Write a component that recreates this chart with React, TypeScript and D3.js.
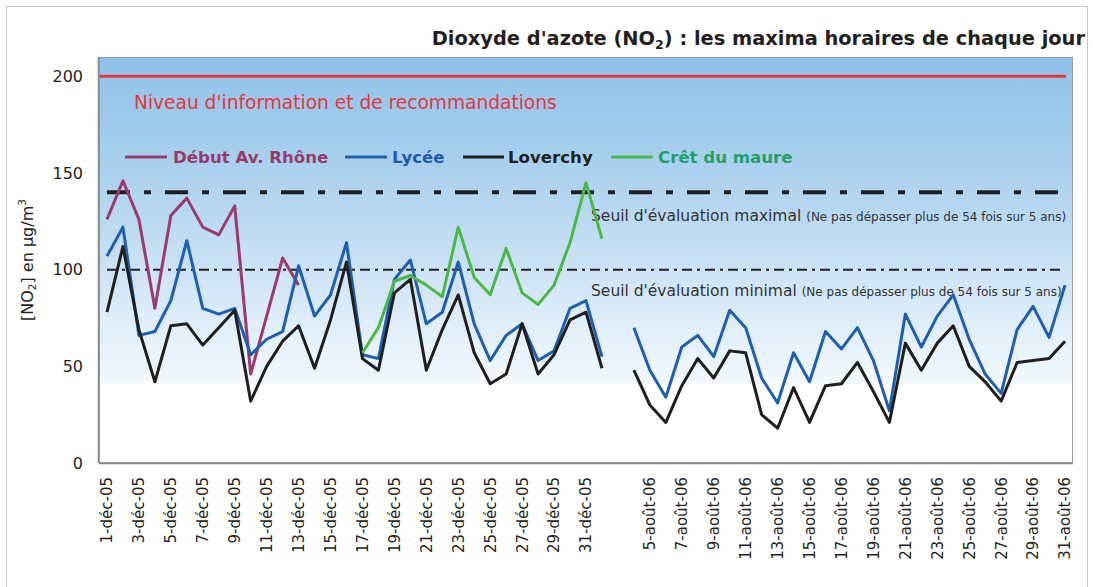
import React from "react";
import * as d3 from "d3";

// ---- data ----
const decLabels: string[] = d3.range(1, 32).map((d) => `${d}-déc-05`);
const gapLabels: string[] = ["1-janv-06", "", "4-août-06"];
const augLabels: string[] = d3.range(5, 32).map((d) => `${d}-août-06`);
const categories: string[] = [...decLabels, ...gapLabels, ...augLabels];

const N = null;
const debutRhone: (number | null)[] = [
  126, 146, 126, 80, 128, 137, 122, 118, 133, 46, 76, 106, 92,
  N, N, N, N, N, N, N, N, N, N, N, N, N, N, N, N, N, N, N,
  N, N, N, N, N, N, N, N, N, N, N, N, N, N, N, N, N, N, N, N, N, N, N, N, N, N, N, N, N,
];
const lycee: (number | null)[] = [
  107, 122, 66, 68, 84, 115, 80, 77, 80, 56, 64, 68, 102, 76, 87, 114,
  56, 54, 95, 105, 72, 78, 104, 72, 53, 66, 72, 53, 58, 80, 84, 55,
  N,
  70, 48, 34, 60, 66, 55, 79, 70, 44, 31, 57, 42, 68, 59, 70, 53, 27, 77, 60, 76, 87, 64, 46, 36, 69, 81, 65, 92,
];
const loverchy: (number | null)[] = [
  78, 112, 69, 42, 71, 72, 61, 70, 79, 32, 50, 63, 71, 49, 74, 104,
  54, 48, 88, 95, 48, 69, 87, 57, 41, 46, 72, 46, 56, 74, 78, 49,
  N,
  48, 30, 21, 40, 54, 44, 58, 57, 25, 18, 39, 21, 40, 41, 52, 37, 21, 62, 48, 62, 71, 50, 42, 32, 52, 53, 54, 63,
];
const cretMaure: (number | null)[] = [
  N, N, N, N, N, N, N, N, N, N, N, N, N, N, N, N,
  57, 70, 94, 97, 92, 86, 122, 96, 87, 111, 88, 82, 92, 114, 145, 116,
  N, N, N, N, N, N, N, N, N, N, N, N, N, N, N, N, N, N, N, N, N, N, N, N, N, N, N, N, N,
];
const yTicks: number[] = [0, 50, 100, 150, 200];
const infoLevel = 200;
const seuilMax = 140;
const seuilMin = 100;

const series = [
  { name: "Début Av. Rhône", values: debutRhone, color: "#9b3a6c", text: "#983a6b" },
  { name: "Lycée", values: lycee, color: "#1f5fad", text: "#1f5aa8" },
  { name: "Loverchy", values: loverchy, color: "#221f1f", text: "#221f1f" },
  { name: "Crêt du maure", values: cretMaure, color: "#4cb848", text: "#21a06a" },
];

const FONT = "'DejaVu Sans', Verdana, sans-serif";

export default function App() {
  const left = 99, right = 1073, top = 57, bottom = 463;
  const x = d3.scaleBand<number>().domain(d3.range(categories.length)).range([left, right]);
  const cx = (i: number) => (x(i) as number) + x.bandwidth() / 2;
  const y = d3.scaleLinear().domain([0, 210]).range([bottom, top]);
  const line = d3
    .line<number | null>()
    .defined((d) => d != null)
    .x((_, i) => cx(i))
    .y((d) => y(d as number));

  const legendItems = [
    { x1: 125, x2: 167, tx: 173 },
    { x1: 345, x2: 387, tx: 392 },
    { x1: 463, x2: 504, tx: 508 },
    { x1: 611, x2: 653, tx: 658 },
  ];
  const gradEnd = y(41);

  return (
    <svg width={1093} height={587} style={{ position: "absolute", left: 0, top: 0 }} fontFamily={FONT}>
      <defs>
        <linearGradient id="bg" gradientUnits="userSpaceOnUse" x1="0" y1={top} x2="0" y2={gradEnd}>
          <stop offset="0" stopColor="#8fc2e8" />
          <stop offset="0.22" stopColor="#9fcbec" />
          <stop offset="0.44" stopColor="#b3d5f0" />
          <stop offset="0.65" stopColor="#cce2f5" />
          <stop offset="0.84" stopColor="#e2eff9" />
          <stop offset="1" stopColor="#f2f8fd" />
        </linearGradient>
      </defs>
      <rect x={0} y={0} width={1093} height={587} fill="#fff" />
      <rect x={6.5} y={6.5} width={1081} height={600} fill="none" stroke="#c8c8c8" strokeWidth={1} />

      {/* title */}
      <text x={1085} y={45} textAnchor="end" fontWeight="bold" fontSize={19.4} fill="#231f20">
        Dioxyde d'azote (NO<tspan fontSize={12.6} dy={4}>2</tspan>
        <tspan dy={-4}>) : les maxima horaires de chaque jour</tspan>
      </text>

      {/* plot background */}
      <rect x={left} y={top} width={right - left} height={gradEnd - top} fill="url(#bg)" />
      <rect x={left} y={gradEnd} width={right - left} height={bottom - gradEnd} fill="#fff" />
      <rect x={left + 0.5} y={top + 0.5} width={right - left - 1} height={bottom - top - 1} fill="none" stroke="#9a9a9a" strokeWidth={1} />
      <line x1={left - 0.5} x2={left - 0.5} y1={top} y2={bottom} stroke="#8a8a8a" strokeWidth={1.5} />
      <line x1={left} x2={right} y1={bottom + 0.5} y2={bottom + 0.5} stroke="#8a8a8a" strokeWidth={1.5} />

      {/* y ticks */}
      {yTicks.map((t) => (
        <text key={t} x={83} y={y(t)} dy="0.36em" textAnchor="end" fontSize={16} fill="#231f20">
          {t}
        </text>
      ))}
      <text transform={`translate(33, 260) rotate(-90)`} textAnchor="middle" fontSize={16} fill="#231f20">
        [NO<tspan fontSize={10.5} dy={3}>2</tspan>
        <tspan dy={-3}>] en µg/m</tspan>
        <tspan fontSize={10.5} dy={-7}>3</tspan>
      </text>

      {/* x labels */}
      {categories.map((c, i) =>
        i % 2 === 0 && c !== "" ? (
          <text
            key={i}
            transform={`translate(${cx(i)}, 477) rotate(-90)`}
            textAnchor="end"
            dy="0.36em"
            fontSize={15}
            fill="#231f20"
          >
            {c}
          </text>
        ) : null
      )}

      {/* reference lines */}
      <line x1={cx(0) - 7} x2={cx(categories.length - 1) + 1} y1={y(infoLevel)} y2={y(infoLevel)} stroke="#e8343c" strokeWidth={3} />
      <text x={134} y={109} fontSize={18.6} fill="#e8343c">
        Niveau d'information et de recommandations
      </text>
      <line x1={cx(0)} x2={cx(categories.length - 1)} y1={y(seuilMax)} y2={y(seuilMax)} stroke="#231f20" strokeWidth={4} strokeDasharray="23,14,7,14" />
      <line x1={cx(0)} x2={cx(categories.length - 1)} y1={y(seuilMin)} y2={y(seuilMin)} stroke="#231f20" strokeWidth={2} strokeDasharray="10,5,3,5" />
      <text x={591} y={221} fontSize={15.5} fill="#333">
        Seuil d'évaluation maximal <tspan fontSize={12}>(Ne pas dépasser plus de 54 fois sur 5 ans)</tspan>
      </text>
      <text x={591} y={296} fontSize={15.5} fill="#333">
        Seuil d'évaluation minimal <tspan fontSize={12}>(Ne pas dépasser plus de 54 fois sur 5 ans)</tspan>
      </text>

      {/* series */}
      {series.map((s) => (
        <path key={s.name} d={line(s.values) || ""} fill="none" stroke={s.color} strokeWidth={3} strokeLinejoin="round" />
      ))}

      {/* legend */}
      {series.map((s, k) => (
        <g key={s.name}>
          <line x1={legendItems[k].x1} x2={legendItems[k].x2} y1={157} y2={157} stroke={s.color} strokeWidth={3} />
          <text x={legendItems[k].tx} y={157} dy="0.36em" fontSize={16.6} fontWeight="bold" fill={s.text}>
            {s.name}
          </text>
        </g>
      ))}
    </svg>
  );
}
